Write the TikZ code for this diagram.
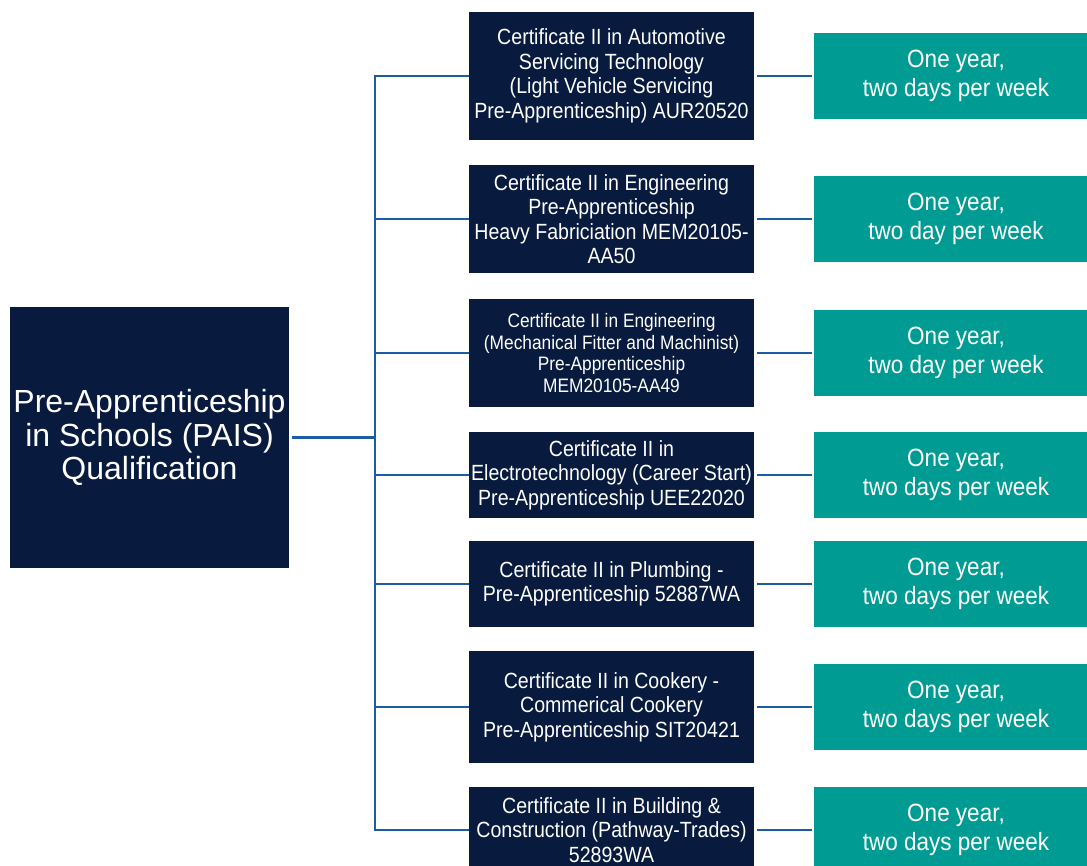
\documentclass[tikz,border=0pt]{standalone}
\usepackage{fontspec}
\setmainfont{Liberation Sans}
\newfontfamily\certfont[FakeStretch=0.89]{Liberation Sans}
\newfontfamily\durfont[FakeStretch=0.9]{Liberation Sans}
\usetikzlibrary{positioning}
\definecolor{navy}{RGB}{8,27,62}
\definecolor{durteal}{RGB}{0,156,148}
\definecolor{linkblue}{RGB}{28,92,164}
\tikzset{
  rootbox/.style={fill=navy,text=white,inner sep=0pt,minimum width=209pt,minimum height=196pt,
    align=center,font=\fontsize{24}{25}\selectfont},
  certbox/.style={fill=navy,text=white,inner sep=0pt,minimum width=214pt,
    align=center,font=\certfont\fontsize{16.5}{18.4}\selectfont},
  smallcert/.style={font=\certfont\fontsize{14.6}{16.3}\selectfont},
  durbox/.style={fill=durteal,text=white,inner sep=0pt,minimum width=213pt,minimum height=64pt,
    align=center,font=\durfont\fontsize{18.75}{21.75}\selectfont},
  link/.style={draw=linkblue,line width=1.8pt}
}
\begin{document}
\begin{tikzpicture}[x=0.75pt,y=-0.75pt]
\useasboundingbox (0,0) rectangle (1087,866);
\clip (0,0) rectangle (1087,866);
%root
\node[rootbox](root)at(149.5,437.5){Pre-Apprenticeship\\in Schools (PAIS)\\Qualification};
%certificates
\node[certbox,minimum height=96pt](c1)at(611.5,76){Certificate II in Automotive\\Servicing Technology\\(Light Vehicle Servicing\\Pre-Apprenticeship) AUR20520};
\node[certbox,minimum height=81pt](c2)at(611.5,219){Certificate II in Engineering\\Pre-Apprenticeship\\Heavy Fabriciation MEM20105-\\AA50};
\node[certbox,smallcert,minimum height=81pt](c3)at(611.5,353){Certificate II in Engineering\\(Mechanical Fitter and Machinist)\\Pre-Apprenticeship\\MEM20105-AA49};
\node[certbox,minimum height=64pt](c4)at(611.5,475){Certificate II in\\Electrotechnology (Career Start)\\Pre-Apprenticeship UEE22020};
\node[certbox,minimum height=64pt](c5)at(611.5,584){Certificate II in Plumbing -\\Pre-Apprenticeship 52887WA};
\node[certbox,minimum height=84pt](c6)at(611.5,707){Certificate II in Cookery -\\Commerical Cookery\\Pre-Apprenticeship SIT20421};
\node[certbox,minimum height=65pt](c7)at(611.5,830){Certificate II in Building \&\\Construction (Pathway-Trades)\\52893WA};
%durations
\node[durbox](d1)at(956,76){One year,\\two days per week};
\node[durbox](d2)at(956,219){One year,\\two day per week};
\node[durbox](d3)at(956,353){One year,\\two day per week};
\node[durbox](d4)at(956,475){One year,\\two days per week};
\node[durbox](d5)at(956,584){One year,\\two days per week};
\node[durbox](d6)at(956,707){One year,\\two days per week};
\node[durbox,minimum height=65pt](d7)at(956,830){One year,\\two days per week};
%connectors
\coordinate(hub)at(375,437.5);
\draw[link,shorten <=2pt](root.east)--(hub);
\foreach \i in {1,...,7}
{
\draw[link](hub)|-(c\i.west);
\draw[link,shorten <=2pt,shorten >=1.5pt](c\i.east)--(d\i.west);
}
\end{tikzpicture}
\end{document}
